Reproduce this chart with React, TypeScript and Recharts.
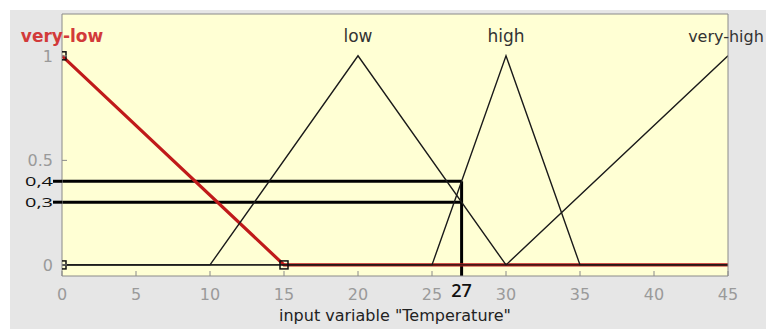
import {
  CartesianGrid,
  ComposedChart,
  Label,
  Line,
  ReferenceDot,
  ReferenceLine,
  Scatter,
  XAxis,
  YAxis,
} from "recharts";

const mfNames = ["very-low", "low", "high", "very-high"];
const mfPeaks = [0, 20, 30, 45];

const veryLowX = [0, 15, 45];
const veryLowY = [1, 0, 0];
const lowX = [0, 10, 20, 30, 45];
const lowY = [0, 0, 1, 0, 0];
const highX = [0, 25, 30, 35, 45];
const highY = [0, 0, 1, 0, 0];
const veryHighX = [0, 30, 45];
const veryHighY = [0, 0, 1];

// vertices of the selected MF (very-low)
const paramX = [0, 0, 15];
const paramY = [0, 1, 0];

const xTicks = [0, 5, 10, 15, 20, 25, 27, 30, 35, 40, 45];
const yTicks = [0, 0.3, 0.4, 0.5, 1];
const frameXTicks = [0, 5, 10, 15, 20, 25, 30, 35, 40, 45];
const frameYTicks = [0, 0.5, 1];

const inputValue = 27;
const degrees = [0.4, 0.3];

const xDomain = [0, 45];
const yDomain = [-0.053, 1.2];

const zip = (xs: number[], ys: number[]) => xs.map((x, i) => ({ x, y: ys[i] }));

const FONT = "'DejaVu Sans', sans-serif";
const GRAY = "#9a9a9a";
const FRAME = "#8a8a8a";

function BottomTick({ x, y, payload }: any) {
  const v = payload.value;
  if (v === inputValue) {
    return (
      <text x={x} y={y + 21} textAnchor="middle" fontFamily="'Open Sans', sans-serif" fontWeight={600} fontSize={18} fill="#111">
        {v}
      </text>
    );
  }
  return (
    <g>
      <line x1={x} x2={x} y1={y} y2={y - 5} stroke={FRAME} />
      <text x={x} y={y + 24} textAnchor="middle" fontFamily={FONT} fontSize={16} fill={GRAY}>
        {v}
      </text>
    </g>
  );
}

function LeftTick({ x, y, payload }: any) {
  const v = payload.value;
  if (degrees.includes(v)) {
    return (
      <g>
        <line x1={x - 9} x2={x} y1={y} y2={y} stroke="#000" strokeWidth={3} />
        <text
          x={x - 37}
          y={y + 5}
          fontFamily="'Open Sans', sans-serif"
          fontSize={13}
          fill="#111"
          textLength={28}
          lengthAdjust="spacingAndGlyphs"
        >
          {String(v).replace(".", ",")}
        </text>
      </g>
    );
  }
  return (
    <g>
      <line x1={x} x2={x + 5} y1={y} y2={y} stroke={FRAME} />
      <text x={x - 9} y={y + 6} textAnchor="end" fontFamily={FONT} fontSize={16} fill={GRAY}>
        {v}
      </text>
    </g>
  );
}

function TopTick({ x, y }: any) {
  return <line x1={x} x2={x} y1={y} y2={y + 5} stroke={FRAME} />;
}

function RightTick({ x, y }: any) {
  return <line x1={x} x2={x - 5} y1={y} y2={y} stroke={FRAME} />;
}

function Square({ cx, cy }: any) {
  return <rect x={cx - 4} y={cy - 4} width={8} height={8} fill="none" stroke="#111" strokeWidth={1.5} />;
}

export default function App() {
  const blackLines = [zip(lowX, lowY), zip(highX, highY), zip(veryHighX, veryHighY)];
  return (
    <div style={{ position: "absolute", left: 0, top: 0, width: 766, height: 331, background: "#fff" }}>
      <div style={{ position: "absolute", left: 10, top: 10, width: 756, height: 319, background: "#e6e6e6" }} />
      <div style={{ position: "absolute", left: 0, top: 0 }}>
        <ComposedChart width={766} height={331} margin={{ top: 10, right: 37, bottom: 25, left: 10 }}>
          <CartesianGrid horizontal={false} vertical={false} fill="#ffffd4" />
          <XAxis
            type="number"
            dataKey="x"
            domain={xDomain}
            allowDataOverflow
            ticks={xTicks}
            interval={0}
            height={30}
            tickSize={0}
            tickMargin={0}
            tickLine={false}
            axisLine={{ stroke: FRAME }}
            tick={BottomTick}
          >
            <Label
              value={'input variable "Temperature"'}
              position="bottom"
              offset={4}
              fontFamily={FONT}
              fontSize={16}
              fill="#222"
            />
          </XAxis>
          <XAxis
            xAxisId="t"
            orientation="top"
            type="number"
            domain={xDomain}
            ticks={frameXTicks}
            interval={0}
            height={4}
            tickSize={0}
            tickMargin={0}
            tickLine={false}
            axisLine={{ stroke: FRAME }}
            tick={TopTick}
          />
          <YAxis
            type="number"
            domain={yDomain}
            ticks={yTicks}
            interval={0}
            width={52}
            tickSize={0}
            tickMargin={0}
            tickLine={false}
            axisLine={{ stroke: FRAME }}
            tick={LeftTick}
          />
          <YAxis
            yAxisId="r"
            orientation="right"
            type="number"
            domain={yDomain}
            ticks={frameYTicks}
            interval={0}
            width={1}
            tickSize={0}
            tickMargin={0}
            tickLine={false}
            axisLine={{ stroke: FRAME }}
            tick={RightTick}
          />
          {degrees.map((d) => (
            <ReferenceLine
              key={d}
              segment={[
                { x: 0, y: d },
                { x: inputValue, y: d },
              ]}
              stroke="#000"
              strokeWidth={3}
            />
          ))}
          <ReferenceLine
            segment={[
              { x: inputValue, y: Math.max(...degrees) },
              { x: inputValue, y: yDomain[0] },
            ]}
            stroke="#000"
            strokeWidth={3}
          />
          <Line
            data={zip(veryLowX, veryLowY)}
            dataKey="y"
            type="linear"
            stroke="#c01a1a"
            strokeWidth={3.2}
            dot={false}
            activeDot={false}
            isAnimationActive={false}
          />
          {blackLines.map((d, i) => (
            <Line
              key={i}
              data={d}
              dataKey="y"
              type="linear"
              stroke="#1a1a1a"
              strokeWidth={1.4}
              dot={false}
              activeDot={false}
              isAnimationActive={false}
            />
          ))}
          <Scatter data={zip(paramX, paramY)} dataKey="y" shape={Square} isAnimationActive={false} />
          {mfNames.map((name, i) => (
            <ReferenceDot
              key={name}
              x={mfPeaks[i]}
              y={1}
              r={0}
              stroke="none"
              fill="none"
              label={{
                value: name,
                position: "top",
                offset: 14,
                dx: i === mfNames.length - 1 ? -2 : 0,
                fontFamily: FONT,
                fontSize: i === mfNames.length - 1 ? 16 : 17,
                fontWeight: i === 0 ? 700 : 400,
                fill: i === 0 ? "#d23a3a" : "#333",
              }}
            />
          ))}
        </ComposedChart>
      </div>
    </div>
  );
}
